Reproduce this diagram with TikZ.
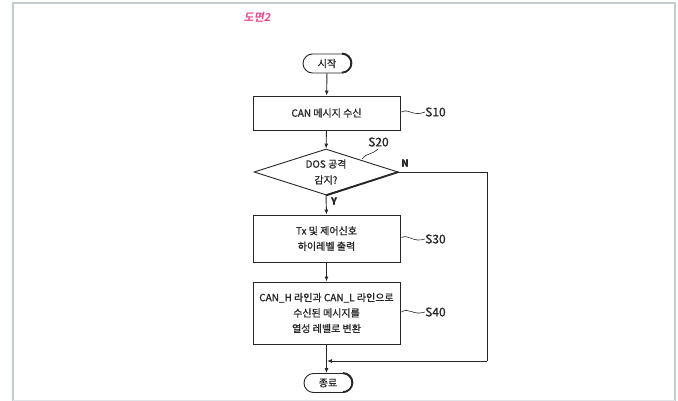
\documentclass[tikz,border=0pt]{standalone}
\usepackage{fontspec}
\setmainfont[FakeBold=0.9]{Noto Sans CJK KR}
\newfontfamily\titlefont[FakeSlant=0.2]{Noto Sans CJK KR Bold}
\usetikzlibrary{shapes.geometric,arrows.meta}
\definecolor{frameC}{HTML}{C3CCCF}
\definecolor{lineC}{HTML}{262626}
\definecolor{titleC}{HTML}{F0438C}
\tikzset{
  x=1pt,y=-1pt,
  every node/.style={text=lineC},
  procbox/.style={draw=lineC,line width=0.9pt,minimum width=147pt,inner sep=0pt,align=center,font=\fontsize{10}{15.5}\selectfont},
  termbox/.style={draw=lineC,line width=0.9pt,rounded corners=9.5pt,minimum width=48pt,minimum height=19pt,inner sep=0pt,font=\fontsize{10}{12}\selectfont},
  decbox/.style={draw=lineC,line width=0.9pt,diamond,minimum width=144pt,minimum height=46pt,inner sep=0pt,aspect=3.13,align=center,font=\fontsize{10}{16}\selectfont},
  arr/.style={draw=lineC,line width=0.9pt,-{Latex[length=5pt,width=4pt]}},
  heavy/.style={draw=lineC,line width=1.8pt},
  squig/.style={draw=lineC,line width=0.6pt},
  steplabel/.style={font=\fontsize{12}{12}\selectfont,inner sep=0pt,anchor=west},
  yn/.style={font=\bfseries\fontsize{9.5}{10}\selectfont,inner sep=0pt}
}
\begin{document}
\begin{tikzpicture}
\useasboundingbox (0,0) rectangle (678,401);
\draw[frameC,line width=2pt] (13,401) -- (13,3) -- (675,3) -- (675,401);
\draw[frameC!50,line width=0.8pt] (13,400) -- (675,400);
\node[text=titleC,font=\titlefont\fontsize{11}{12}\selectfont,inner sep=0pt] (title) at (257,17) {도면2};

\node[termbox] (start) at (327,63.5) {시작};
\draw[heavy] ([xshift=-9.5pt]start.north east) arc[start angle=90,end angle=-90,radius=9.5pt];

\node[procbox,minimum height=34pt] (s10) at (326.5,113) {CAN 메시지 수신};
\draw[heavy] (s10.north east) -- (s10.south east) -- (s10.south west);

\node[decbox] (s20) at (326,172) {DOS 공격\\감지?};
\draw[heavy] (s20.east) -- (s20.south);

\node[procbox,minimum height=47pt] (s30) at (326.5,238.5) {Tx 및 제어신호\\하이레벨 출력};
\draw[heavy] (s30.north east) -- (s30.south east) -- (s30.south west);

\node[procbox,minimum height=62pt] (s40) at (326.5,313) {CAN\_H 라인과 CAN\_L 라인으로\\수신된 메시지를\\열성 레벨로 변환};
\draw[heavy] (s40.north east) -- (s40.south east) -- (s40.south west);

\node[termbox] (stop) at (328,383) {종료};
\draw[heavy] ([xshift=-9.5pt]stop.north east) arc[start angle=90,end angle=-90,radius=9.5pt];

\coordinate (ncorner) at (487,361);
\coordinate (merge) at (327,361);

\draw[arr] (start) -- (s10);
\draw[arr] (s10) -- (s20);
\draw[arr] (s20.south) -- (s30.north);
\draw[arr] (s30) -- (s40);
\draw[arr] (s40.south) -- (stop.north -| s40.south);
\draw[draw=lineC,line width=0.9pt] (s20.east) -| (ncorner);
\draw[arr] (ncorner) -- (merge);

\node[yn] (ylab) at (334,201) {Y};
\node[yn] (nlab) at (405,163) {N};

\node[steplabel] (l10) at (425,112) {S10};
\draw[squig] (s10.east) ++(1,-1) .. controls (409,108) and (413,117) .. (l10.west);
\node[steplabel] (l30) at (425,239) {S30};
\draw[squig] (s30.east) ++(1,-1) .. controls (409,234) and (413,243) .. (l30.west);
\node[steplabel] (l40) at (425,312) {S40};
\draw[squig] (s40.east) ++(1,-1) .. controls (409,307) and (413,316) .. (l40.west);
\node[steplabel] (l20) at (368,142) {S20};
\draw[squig] (362,159) .. controls (368,152) and (370,156) .. (378,149);
\end{tikzpicture}
\end{document}
